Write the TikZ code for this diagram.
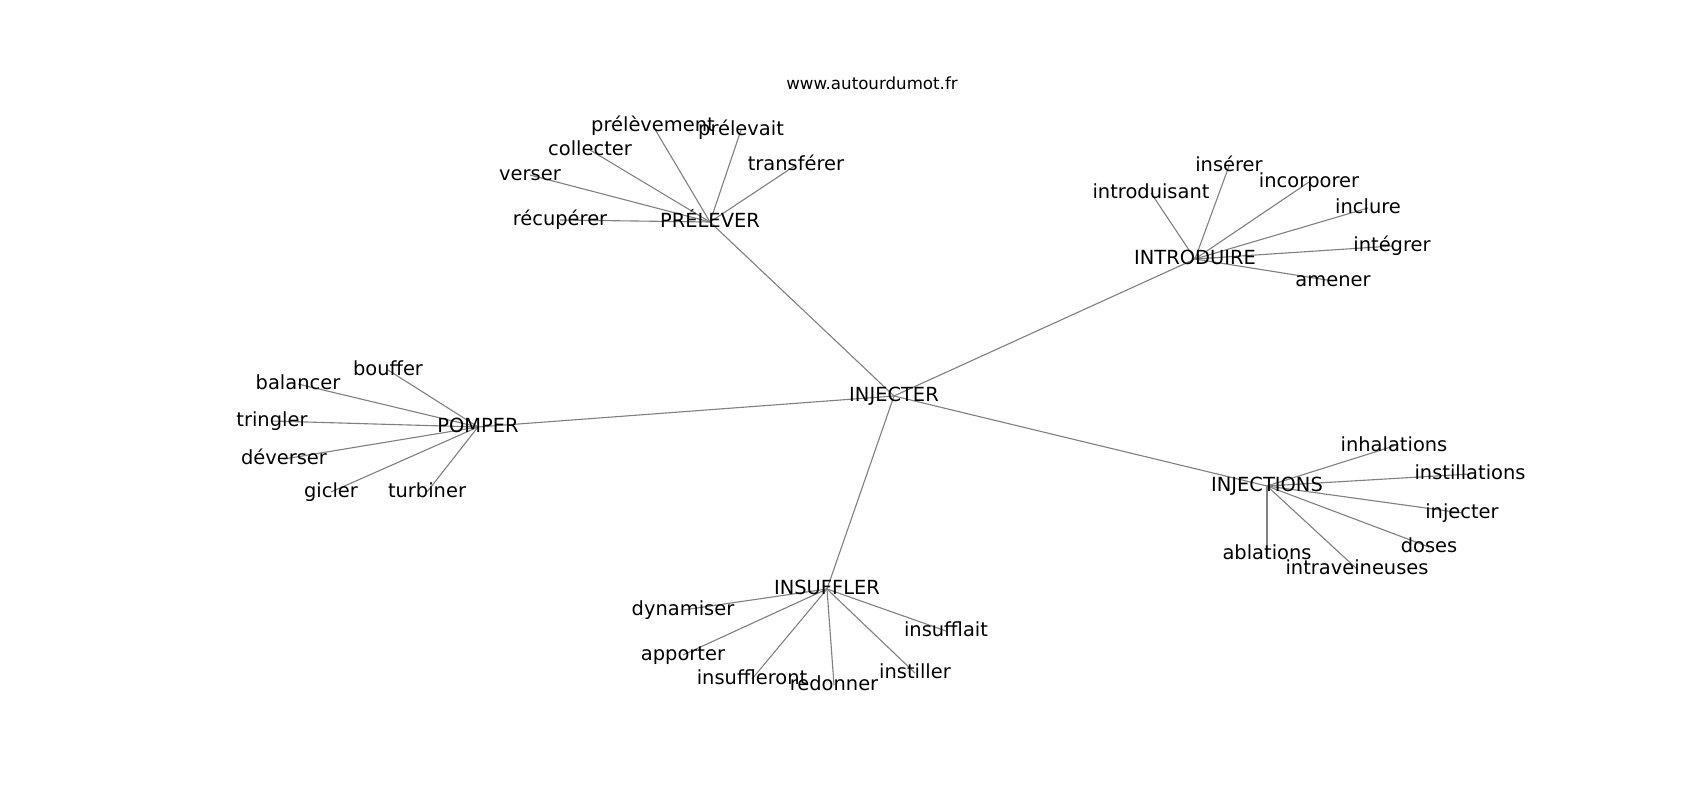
\documentclass[tikz,border=0pt]{standalone}
\usepackage{fontspec}
\setmainfont{DejaVu Sans}
\usetikzlibrary{backgrounds}

\begin{document}
\begin{tikzpicture}[x=0.72pt,y=-0.72pt,
        word/.style={font=\fontsize{14}{16}\selectfont, inner sep=0pt, text height=10.6pt, text depth=2pt},
        link/.style={draw=gray, line width=0.8pt}]
        \useasboundingbox (0,0) rectangle (1700,800);
        \node[font=\fontsize{12}{14}\selectfont] (site) at (872,83) {www.autourdumot.fr};
        % centre et sous-groupes
        \node[word] (injecter) at (894,396) {INJECTER};
        \node[word] (prelever) at (710,222) {PRÉLEVER};
        \node[word] (introduire) at (1195,259) {INTRODUIRE};
        \node[word] (pomper) at (478,427) {POMPER};
        \node[word] (injections) at (1267,486) {INJECTIONS};
        \node[word] (insuffler) at (827,589) {INSUFFLER};
        % prelever
        \node[word] (prelevement) at (653,126) {prélèvement};
        \node[word] (prelevait) at (741,130) {prélevait};
        \node[word] (collecter) at (590,150) {collecter};
        \node[word] (verser) at (530,175) {verser};
        \node[word] (transferer) at (796,165) {transférer};
        \node[word] (recuperer) at (560,220) {récupérer};
        % introduire
        \node[word] (inserer) at (1229,166) {insérer};
        \node[word] (introduisant) at (1151,193) {introduisant};
        \node[word] (incorporer) at (1309,182) {incorporer};
        \node[word] (inclure) at (1368,208) {inclure};
        \node[word] (integrer) at (1392,246) {intégrer};
        \node[word] (amener) at (1333,281) {amener};
        % pomper
        \node[word] (bouffer) at (388,370) {bouffer};
        \node[word] (balancer) at (298,384) {balancer};
        \node[word] (tringler) at (272,421) {tringler};
        \node[word] (deverser) at (284,459) {déverser};
        \node[word] (gicler) at (331,492) {gicler};
        \node[word] (turbiner) at (427,492) {turbiner};
        % injections
        \node[word] (inhalations) at (1394,446) {inhalations};
        \node[word] (instillations) at (1470,474) {instillations};
        \node[word] (injecterb) at (1462,513) {injecter};
        \node[word] (doses) at (1429,547) {doses};
        \node[word] (ablations) at (1267,554) {ablations};
        \node[word] (intraveineuses) at (1357,569) {intraveineuses};
        % insuffler
        \node[word] (dynamiser) at (683,610) {dynamiser};
        \node[word] (apporter) at (683,655) {apporter};
        \node[word] (insuffleront) at (752,679) {insuffleront};
        \node[word] (redonner) at (834,685) {redonner};
        \node[word] (instiller) at (915,673) {instiller};
        \node[word] (insufflait) at (946,631) {insufflait};
        \begin{scope}[on background layer]
        \draw[link] (injecter.center) -- (prelever.center);
        \draw[link] (injecter.center) -- (introduire.center);
        \draw[link] (injecter.center) -- (pomper.center);
        \draw[link] (injecter.center) -- (injections.center);
        \draw[link] (injecter.center) -- (insuffler.center);
        \draw[link] (prelever.center) -- (prelevement.center);
        \draw[link] (prelever.center) -- (prelevait.center);
        \draw[link] (prelever.center) -- (collecter.center);
        \draw[link] (prelever.center) -- (verser.center);
        \draw[link] (prelever.center) -- (transferer.center);
        \draw[link] (prelever.center) -- (recuperer.center);
        \draw[link] (introduire.center) -- (inserer.center);
        \draw[link] (introduire.center) -- (introduisant.center);
        \draw[link] (introduire.center) -- (incorporer.center);
        \draw[link] (introduire.center) -- (inclure.center);
        \draw[link] (introduire.center) -- (integrer.center);
        \draw[link] (introduire.center) -- (amener.center);
        \draw[link] (pomper.center) -- (bouffer.center);
        \draw[link] (pomper.center) -- (balancer.center);
        \draw[link] (pomper.center) -- (tringler.center);
        \draw[link] (pomper.center) -- (deverser.center);
        \draw[link] (pomper.center) -- (gicler.center);
        \draw[link] (pomper.center) -- (turbiner.center);
        \draw[link] (injections.center) -- (inhalations.center);
        \draw[link] (injections.center) -- (instillations.center);
        \draw[link] (injections.center) -- (injecterb.center);
        \draw[link] (injections.center) -- (doses.center);
        \draw[link] (injections.center) -- (ablations.center);
        \draw[link] (injections.center) -- (intraveineuses.center);
        \draw[link] (insuffler.center) -- (dynamiser.center);
        \draw[link] (insuffler.center) -- (apporter.center);
        \draw[link] (insuffler.center) -- (insuffleront.center);
        \draw[link] (insuffler.center) -- (redonner.center);
        \draw[link] (insuffler.center) -- (instiller.center);
        \draw[link] (insuffler.center) -- (insufflait.center);
        \end{scope}
    \end{tikzpicture}
\end{document}
